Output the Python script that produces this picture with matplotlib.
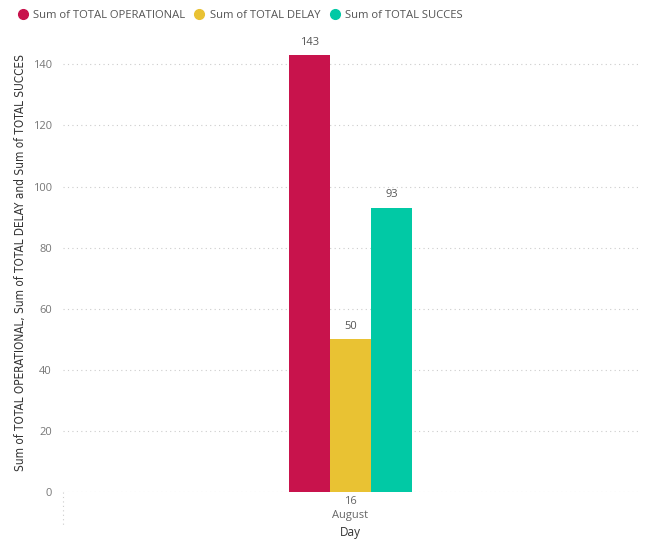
import numpy as np
import matplotlib.pyplot as plt
from matplotlib.lines import Line2D

# data
categories = ['16\nAugust']
series = ['Sum of TOTAL OPERATIONAL', 'Sum of TOTAL DELAY', 'Sum of TOTAL SUCCES']
operational = [143]
delay = [50]
succes = [93]
colors = ['#C8134C', '#E9C233', '#01C9A5']

plt.rcParams['font.family'] = ['Open Sans', 'DejaVu Sans']

fig = plt.figure(figsize=(6.46, 5.39), dpi=100)
ax = fig.add_axes([0.0975, 0.0872, 0.89, 0.85])

x = np.arange(len(categories))
w = 0.0713
values = [operational, delay, succes]
for i, (vals, c) in enumerate(zip(values, colors)):
    bars = ax.bar(x + (i - 1) * w, vals, width=w, color=c, zorder=3)
    for b, v in zip(bars, vals):
        ax.text(b.get_x() + b.get_width() / 2, v + 2.5, str(v), ha='center', va='bottom',
                fontsize=8, color='#555555')

ax.set_xlim(-0.5, 0.5)
ax.set_ylim(0, 150)
ax.set_yticks(range(0, 141, 20))
ax.set_xticks(x)
ax.set_xticklabels(categories, fontsize=8, color='#666666', linespacing=1.4)
ax.tick_params(axis='y', labelsize=8, labelcolor='#777777', length=0, pad=8)
ax.tick_params(axis='x', length=0, pad=3)
ax.grid(axis='y', linestyle=(0, (1, 3)), color='#CCCCCC', linewidth=0.8, zorder=0)
for s in ax.spines.values():
    s.set_visible(False)
ax.plot([0, 0], [0, -0.075], transform=ax.transAxes, clip_on=False,
        linestyle=(0, (1, 3)), color='#CCCCCC', linewidth=0.8)

ax.set_xlabel('Day', fontsize=8.5, color='#333333', labelpad=3)
ax.set_ylabel('Sum of TOTAL OPERATIONAL, Sum of TOTAL DELAY and Sum of TOTAL SUCCES',
              fontsize=8.5, color='#333333', family=['DejaVu Sans'], fontstretch='condensed')
ax.yaxis.set_label_coords(-0.062, 0.5)

handles = [Line2D([], [], marker='o', linestyle='none', markersize=7, color=c) for c in colors]
fig.legend(handles, series, loc='upper left', bbox_to_anchor=(0.0, 1.003), ncol=3,
           frameon=False, fontsize=8.1, handletextpad=-0.1, columnspacing=0.3,
           labelcolor='#555555', borderaxespad=0.6)

fig.savefig('out.png', dpi=100, facecolor='white')
